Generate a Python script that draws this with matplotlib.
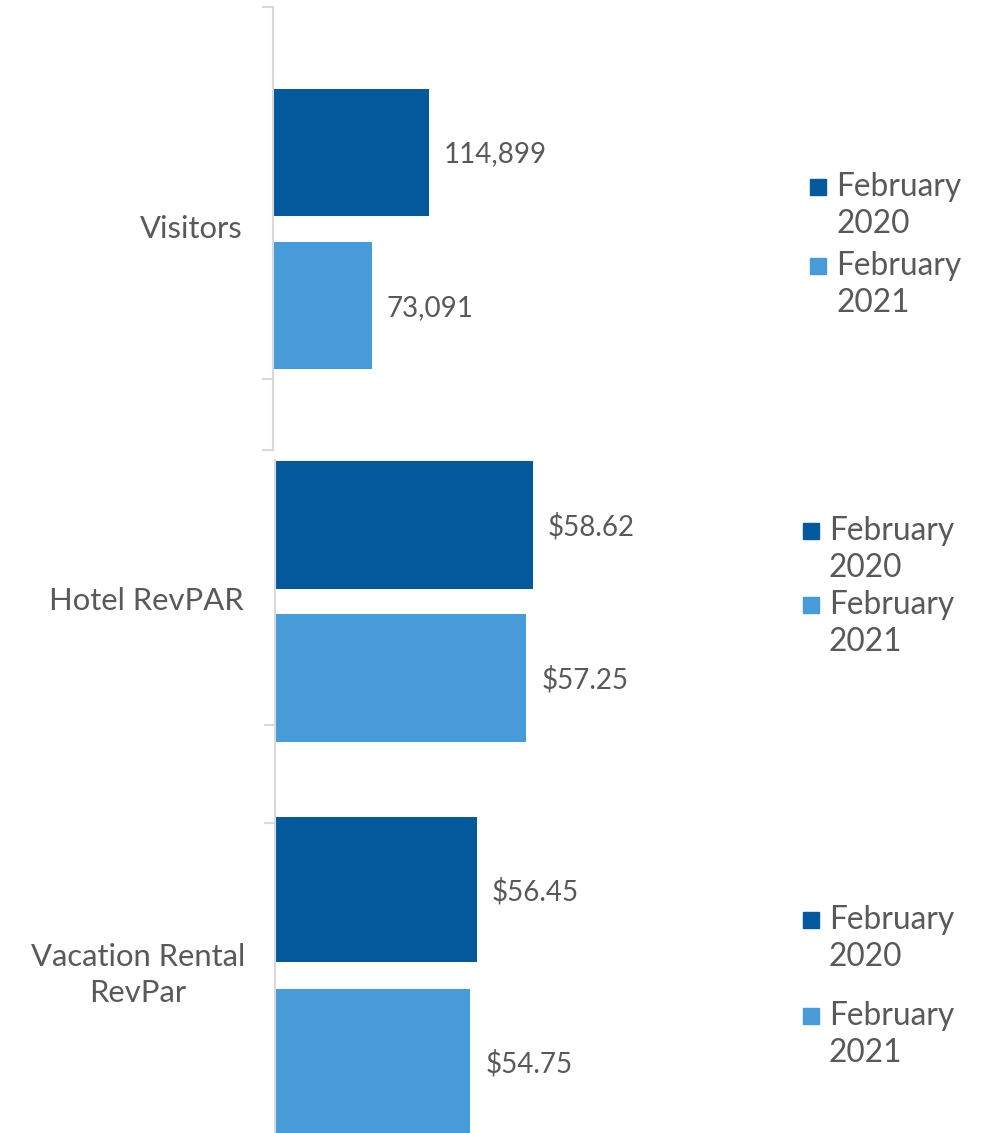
import matplotlib
matplotlib.use("Agg")
import matplotlib.pyplot as plt
from matplotlib.patches import Rectangle

# ---- data ----
series_labels = ["February\n2020", "February\n2021"]
categories = ["Visitors", "Hotel RevPAR", "Vacation Rental\nRevPar"]
visitors = [114899, 73091]
hotel_revpar = [58.62, 57.25]
vacation_revpar = [56.45, 54.75]
value_labels = [["114,899", "73,091"], ["$58.62", "$57.25"], ["$56.45", "$54.75"]]

W, H = 989, 1133
DPI = 100
DARK = "#03599C"
LIGHT = "#479BD8"
TXT = "#595959"
GRID = "#D9D9D9"
FONT = "Lato"
FS_VAL = 20
FS_LAB = 22.3
FS_LEG = 22.8

plt.rcParams["font.family"] = [FONT, "DejaVu Sans"]
fig = plt.figure(figsize=(W / DPI, H / DPI), dpi=DPI)


def fx(px):
    return px / W


def fy(py):
    return 1 - py / H


panels = [
    dict(vals=visitors, x0=273, top=7, bottom=450, centers=[145.5, 299], bh=127,
         ticks=[0, 372, 443], label_y=[222], label_x=243, ha="right",
         leg_x=810, leg_y=[187, 266]),
    dict(vals=hotel_revpar, x0=275, top=460, bottom=823, centers=[65, 218], bh=128,
         ticks=[265, 363], label_y=[141], label_x=244, ha="right",
         leg_x=803, leg_y=[531, 605]),
    dict(vals=vacation_revpar, x0=275, top=800, bottom=1133, centers=[89.5, 261.5], bh=145,
         ticks=[23], label_y=[157, 193], label_x=138, ha="center",
         leg_x=803, leg_y=[920, 1016]),
]
panels[0]["scale"] = visitors[0] / 155.5
panels[1]["scale"] = hotel_revpar[0] / 257.5
panels[2]["scale"] = vacation_revpar[0] / 201.5

axes_w_px = 500
colors = [DARK, LIGHT]
for i, p in enumerate(panels):
    hpx = p["bottom"] - p["top"]
    ax = fig.add_axes([fx(p["x0"]), fy(p["bottom"]), fx(axes_w_px), hpx / H])
    ax.set_xlim(0, axes_w_px * p["scale"])
    ax.set_ylim(hpx, 0)
    for j, v in enumerate(p["vals"]):
        ax.barh(p["centers"][j], v, height=p["bh"], color=colors[j], zorder=2)
        ax.text(v + 15 * p["scale"], p["centers"][j] + 2, value_labels[i][j], va="center", ha="left",
                fontsize=FS_VAL, color=TXT)
    for s in ["top", "right", "bottom"]:
        ax.spines[s].set_visible(False)
    ax.spines["left"].set_color(GRID)
    ax.spines["left"].set_linewidth(1.5)
    ax.set_xticks([])
    ax.set_yticks(p["ticks"])
    ax.set_yticklabels([])
    ax.tick_params(axis="y", length=8, width=1.5, color=GRID)
    ax.patch.set_alpha(0)
    # category label (one text object per line)
    lines = categories[i].split("\n")
    for k, line in enumerate(lines):
        fig.text(fx(p["label_x"]), fy(p["top"] + p["label_y"][k]), line, ha=p["ha"], va="center",
                 fontsize=FS_LAB, color=TXT)
    # legend
    for j in range(2):
        y = p["leg_y"][j]
        fig.patches.append(Rectangle((fx(p["leg_x"]), fy(y + 8)), fx(16), 16 / H,
                                     transform=fig.transFigure, color=colors[j]))
        for k, line in enumerate(series_labels[j].split("\n")):
            fig.text(fx(p["leg_x"] + 26), fy(y + 37 * k), line, ha="left", va="center",
                     fontsize=FS_LEG, color=TXT)

fig.savefig("out.png", dpi=DPI)
